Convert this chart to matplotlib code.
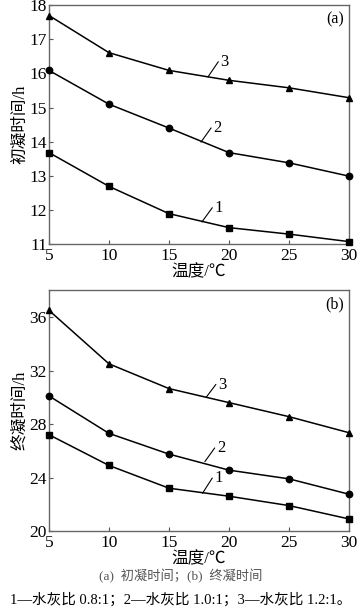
import numpy as np
import matplotlib
matplotlib.use("Agg")
import matplotlib.pyplot as plt

# temperature (°C)
temp = [5, 10, 15, 20, 25, 30]

# (a) initial setting time, h
init_1 = [13.68, 12.69, 11.89, 11.48, 11.29, 11.07]
init_2 = [16.09, 15.10, 14.40, 13.68, 13.38, 12.99]
init_3 = [17.70, 16.61, 16.09, 15.80, 15.58, 15.29]

# (b) final setting time, h
final_1 = [27.2, 24.9, 23.2, 22.6, 21.9, 20.9]
final_2 = [30.1, 27.3, 25.75, 24.55, 23.9, 22.75]
final_3 = [36.5, 32.5, 30.65, 29.6, 28.55, 27.35]

series_labels = ["1", "2", "3"]
markers = ["s", "o", "^"]
msizes = [4.0, 4.6, 3.8]

plt.rcParams['font.family'] = ['Liberation Serif', 'Noto Sans CJK SC', 'DejaVu Sans']
plt.rcParams['font.size'] = 12
plt.rcParams['xtick.labelsize'] = 12.5
plt.rcParams['ytick.labelsize'] = 12.5

fig = plt.figure(figsize=(3.61, 6.14), dpi=100)
ax1 = fig.add_axes([0.1357, 0.6026, 0.831, 0.3888])
ax2 = fig.add_axes([0.1357, 0.1352, 0.831, 0.392])


def draw(ax, ys, ylim, yticks, ylabel, tag, leaders):
    for y, m, ms in zip(ys, markers, msizes):
        ax.plot(temp, y, color='black', lw=1.1, marker=m, ms=ms,
                clip_on=False, zorder=3)
    ax.set_xlim(5, 30)
    ax.set_ylim(*ylim)
    ax.set_xticks(temp)
    ax.set_yticks(yticks)
    ax.tick_params(direction='in', length=3, width=0.8, color='#555555')
    ax.tick_params(axis='x', pad=3)
    ax.tick_params(axis='y', pad=1.5)
    for s in ax.spines.values():
        s.set_color('#666666')
        s.set_linewidth(1.0)
    ax.set_xlabel("温度/℃", labelpad=0, fontsize=12)
    ax.set_ylabel(ylabel, labelpad=1, fontsize=12)
    ax.text(0.985, 0.975, tag, transform=ax.transAxes, ha='right', va='top',
            fontsize=11.5)
    for lab, (x0, y0, x1, y1) in zip(series_labels, leaders):
        ax.plot([x0, x1], [y0, y1], color='black', lw=0.8)
        ax.text(x1 + 0.2, y1, lab, ha='left', va='center', fontsize=12)


draw(ax1, [init_1, init_2, init_3], (11, 18), range(11, 19), "初凝时间/h", "(a)",
     [(17.75, 11.65, 18.6, 12.06), (17.67, 13.99, 18.5, 14.4),
      (18.25, 15.9, 19.1, 16.34)])
draw(ax2, [final_1, final_2, final_3], (20, 38), range(20, 37, 4), "终凝时间/h", "(b)",
     [(17.8, 22.83, 18.6, 23.95), (18.0, 25.2, 18.8, 26.2),
      (18.1, 30.0, 18.9, 30.95)])

fig.text(0.5, 0.061, "(a)  初凝时间；(b)  终凝时间", ha='center', va='center',
         fontsize=9.5, color='#555555')
fig.text(0.5, 0.023, "1—水灰比 0.8:1；2—水灰比 1.0:1；3—水灰比 1.2:1。",
         ha='center', va='center', fontsize=10.5)

fig.savefig("out.png", dpi=100)
